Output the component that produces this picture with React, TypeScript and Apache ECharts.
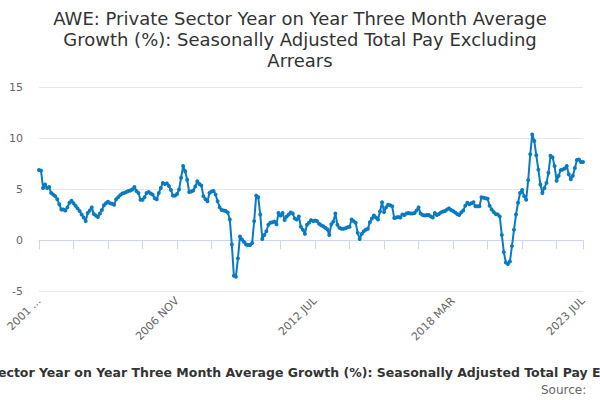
import React, { useEffect, useRef } from "react";
import * as echarts from "echarts";

const TITLE =
  "AWE: Private Sector Year on Year Three Month Average\nGrowth (%): Seasonally Adjusted Total Pay Excluding\nArrears";
const SERIES_NAME =
  "Private Sector Year on Year Three Month Average Growth (%): Seasonally Adjusted Total Pay Excluding Arrears";

const START_YEAR = 2001;
const START_MONTH = 2; // 0-based: MAR
const MONTHS = ["JAN", "FEB", "MAR", "APR", "MAY", "JUN", "JUL", "AUG", "SEP", "OCT", "NOV", "DEC"];

const values: number[] = [
  6.86, 6.8, 5.1, 5.45, 5.1, 5.2, 4.6, 4.45, 4.3, 4.0, 3.5, 3.0,
  3.0, 2.9, 3.2, 3.65, 3.85, 3.6, 3.35, 3.1, 2.85, 2.5, 2.2, 1.85,
  2.65, 2.9, 3.2, 2.55, 2.4, 2.25, 2.6, 2.95, 3.4, 3.6, 3.75, 3.6,
  3.55, 3.45, 4.0, 4.2, 4.4, 4.55, 4.6, 4.7, 4.8, 4.85, 4.95, 5.2,
  4.8, 4.6, 3.95, 3.95, 4.2, 4.6, 4.7, 4.55, 4.45, 4.1, 4.0, 4.6,
  5.1, 5.6, 5.5, 5.55, 5.3, 4.9, 4.35, 4.35, 4.5, 4.95, 6.1, 7.25,
  6.75, 5.9, 4.7, 4.75, 4.85, 5.25, 5.75, 5.5, 5.35, 4.3, 4.0, 3.8,
  4.6, 4.75, 4.8, 4.45, 3.8, 3.2, 2.95, 2.9, 2.85, 2.7, 2.0, -0.45,
  -3.5, -3.6, -1.8, 0.35, 0.05, -0.2, -0.45, -0.5, -0.5, -0.3, 1.85, 4.35,
  4.2, 2.5, 0.1, 0.5, 0.85, 1.5, 1.7, 1.75, 1.8, 1.55, 2.65, 2.4,
  2.65, 1.95, 2.3, 2.5, 2.7, 2.6, 2.1, 2.0, 2.3, 1.3, 1.0, 0.6,
  1.5, 1.7, 1.95, 1.85, 1.9, 1.85, 1.6, 1.45, 1.35, 1.2, 1.05, 0.5,
  1.55, 1.8, 2.6, 1.5, 1.2, 1.1, 1.1, 1.15, 1.25, 1.3, 2.0, 1.85,
  1.7, 0.7, 0.1, 0.6, 0.85, 1.0, 1.1, 1.75, 2.1, 2.4, 2.2, 2.0,
  2.8, 3.7, 2.75, 3.2, 3.45, 3.4, 3.3, 2.15, 2.2, 2.25, 2.2, 2.5,
  2.45, 2.6, 2.65, 2.6, 2.6, 2.65, 2.9, 3.2, 2.6, 2.45, 2.4, 2.45,
  2.45, 2.3, 2.2, 2.65, 2.45, 2.55, 2.7, 2.8, 2.85, 3.0, 3.1, 2.95,
  2.85, 2.7, 2.55, 2.45, 2.7, 2.9, 3.35, 3.65, 3.5, 3.6, 3.7, 3.3,
  3.3, 3.3, 4.2, 4.15, 4.1, 4.05, 3.35, 3.0, 2.75, 2.55, 2.5, 2.3,
  0.5, -1.2, -2.2, -2.35, -2.1, -0.6, 1.0, 2.5, 3.65, 4.6, 4.9, 4.3,
  3.95, 5.85, 8.4, 10.35, 9.7, 8.3, 6.9, 5.45, 4.6, 5.1, 5.6, 6.6,
  8.25, 8.1, 7.25, 5.8, 6.3, 6.85, 6.9, 7.0, 7.25, 6.45, 5.95, 6.3,
  7.05, 7.85, 7.9, 7.65, 7.65,
];

const categories: string[] = values.map((_, i) => {
  const m = START_MONTH + i;
  return `${START_YEAR + Math.floor(m / 12)} ${MONTHS[m % 12]}`;
});

export default function App() {
  const ref = useRef<HTMLDivElement>(null);
  useEffect(() => {
    document.body.style.margin = "0";
    if (!ref.current) return;
    const chart = echarts.init(ref.current, undefined, { renderer: "svg" });
    chart.setOption({
      animation: false,
      title: [
        {
          text: TITLE,
          left: "center",
          top: 3,
          textStyle: {
            fontFamily: "DejaVu Sans",
            fontSize: 18,
            fontWeight: "normal",
            color: "#333333",
            lineHeight: 21,
          },
        },
        {
          text: "Source: ",
          right: 10,
          bottom: 4,
          padding: 0,
          textStyle: {
            fontFamily: "DejaVu Sans",
            fontSize: 12,
            fontWeight: "normal",
            color: "#666666",
          },
        },
      ],
      legend: {
        data: [SERIES_NAME],
        bottom: 16,
        left: -71,
        icon: "none",
        itemWidth: 0,
        itemGap: 0,
        padding: [5, 0, 5, 0],
        textStyle: {
          fontFamily: "DejaVu Sans",
          fontSize: 12.5,
          fontWeight: "bold",
          color: "#333333",
        },
      },
      grid: { left: 39, right: 17, top: 87, bottom: 109 },
      xAxis: {
        type: "category",
        data: categories,
        boundaryGap: false,
        axisLine: { lineStyle: { color: "#ccd6eb" } },
        axisTick: { interval: 16, length: 9, lineStyle: { color: "#ccd6eb" } },
        axisLabel: {
          interval: 67,
          showMaxLabel: true,
          rotate: 45,
          fontFamily: "DejaVu Sans",
          fontSize: 11,
          color: "#666666",
          formatter: (v: string, i: number) => (i === 0 ? v.slice(0, 4) + " ..." : v),
        },
      },
      yAxis: {
        type: "value",
        min: -5,
        max: 15,
        interval: 5,
        axisLine: { show: false },
        axisTick: { show: false },
        axisLabel: { fontFamily: "DejaVu Sans", fontSize: 11, color: "#666666", margin: 16 },
        splitLine: { lineStyle: { color: "#e6e6e6" } },
      },
      series: [
        {
          name: SERIES_NAME,
          type: "line",
          data: values,
          symbol: "circle",
          symbolSize: 4,
          showAllSymbol: true,
          itemStyle: { color: "#0a7bc1" },
          lineStyle: { color: "#0a7bc1", width: 2 },
        },
      ],
    });
    return () => chart.dispose();
  }, []);
  return <div ref={ref} style={{ width: 600, height: 400 }} />;
}
